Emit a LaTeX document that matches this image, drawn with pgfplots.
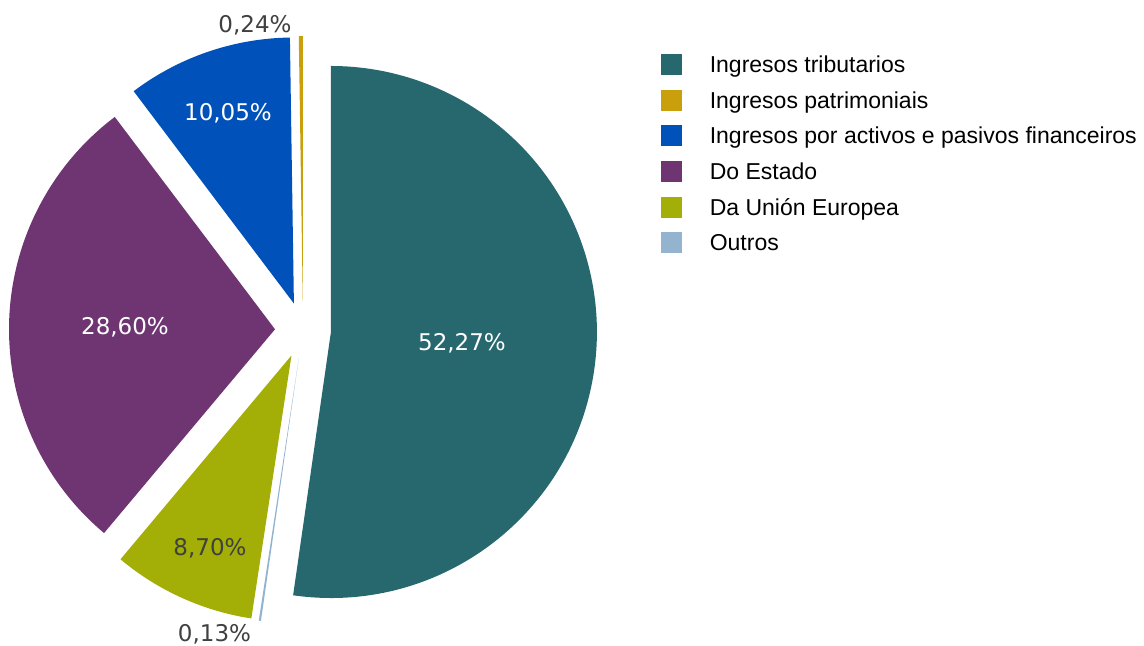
\documentclass[border=0pt]{standalone}
\usepackage{pgfplots}
\pgfplotsset{compat=1.18}
\usepackage{pgfplotstable}
\usepackage{fontspec}
\setmainfont{DejaVu Sans}
\newfontfamily\legfont{Liberation Sans}
\definecolor{cTrib}{HTML}{27686E}
\definecolor{cPat}{HTML}{C9A00C}
\definecolor{cAct}{HTML}{0052BA}
\definecolor{cEst}{HTML}{6E3572}
\definecolor{cUE}{HTML}{A3AE06}
\definecolor{cOut}{HTML}{93B3CE}
\definecolor{labgray}{HTML}{404040}
\pgfplotstableread{
value col
52.27 cTrib
0.24 cPat
10.05 cAct
28.60 cEst
8.70 cUE
0.13 cOut
}\piedata
\begin{document}
\begin{tikzpicture}
\begin{axis}[width=572pt,height=323pt,scale only axis,
  xmin=0,xmax=1144,ymin=0,ymax=646,hide axis,clip=false,
  legend image code/.code={\fill[#1] (0pt,-4pt) rectangle (10pt,6pt);},
  legend cell align=left,
  legend style={at={(axis cs:661,592)},anchor=north west,draw=none,fill=none,
    inner sep=0pt,outer sep=0pt,row sep=6.15pt,column sep=14pt,
    nodes={inner sep=0pt,text height=8.5pt,text depth=2.5pt},
    font=\legfont\fontsize{11.5}{13}\selectfont}]
\addlegendimage{cTrib}\addlegendentry{Ingresos tributarios}
\addlegendimage{cPat}\addlegendentry{Ingresos patrimoniais}
\addlegendimage{cAct}\addlegendentry{Ingresos por activos e pasivos financeiros}
\addlegendimage{cEst}\addlegendentry{Do Estado}
\addlegendimage{cUE}\addlegendentry{Da Unión Europea}
\addlegendimage{cOut}\addlegendentry{Outros}
\pgfplotstablegetelem{0}{value}\of\piedata
\pgfmathsetmacro\curang{90-3.6*\pgfplotsretval}
\pgfplotsforeachungrouped \i in {0,...,5}{%
  \pgfplotstablegetelem{\i}{value}\of\piedata \let\pieV\pgfplotsretval
  \pgfplotstablegetelem{\i}{col}\of\piedata \let\pieC\pgfplotsretval
  \pgfmathsetmacro\pieA{\curang}%
  \pgfmathsetmacro\pieB{\curang+3.6*\pieV}%
  \pgfmathsetmacro\pieM{(\pieA+\pieB)/2}%
  \edef\temp{\noexpand\fill[\pieC, shift={(\pieM:14pt)}] (axis cs:303,316) -- ++(\pieA:133pt) arc[start angle=\pieA, end angle=\pieB, radius=133pt] -- cycle;}%
  \temp
  \global\let\curang\pieB
}
\begin{scope}[font=\fontsize{11.5}{14}\selectfont]
\node[text=white,anchor=base] at (axis cs:462,295) {52,27\%};
\node[text=white,anchor=base] at (axis cs:125,311) {28,60\%};
\node[text=white,anchor=base] at (axis cs:228,525) {10,05\%};
\node[text=labgray,anchor=base] at (axis cs:210,90) {8,70\%};
\node[text=labgray,anchor=base] at (axis cs:255,613) {0,24\%};
\node[text=labgray,anchor=base] at (axis cs:214.5,4) {0,13\%};
\end{scope}
\end{axis}
\pgfresetboundingbox
\path (current axis.south west) rectangle (current axis.north east);
\end{tikzpicture}
\end{document}
